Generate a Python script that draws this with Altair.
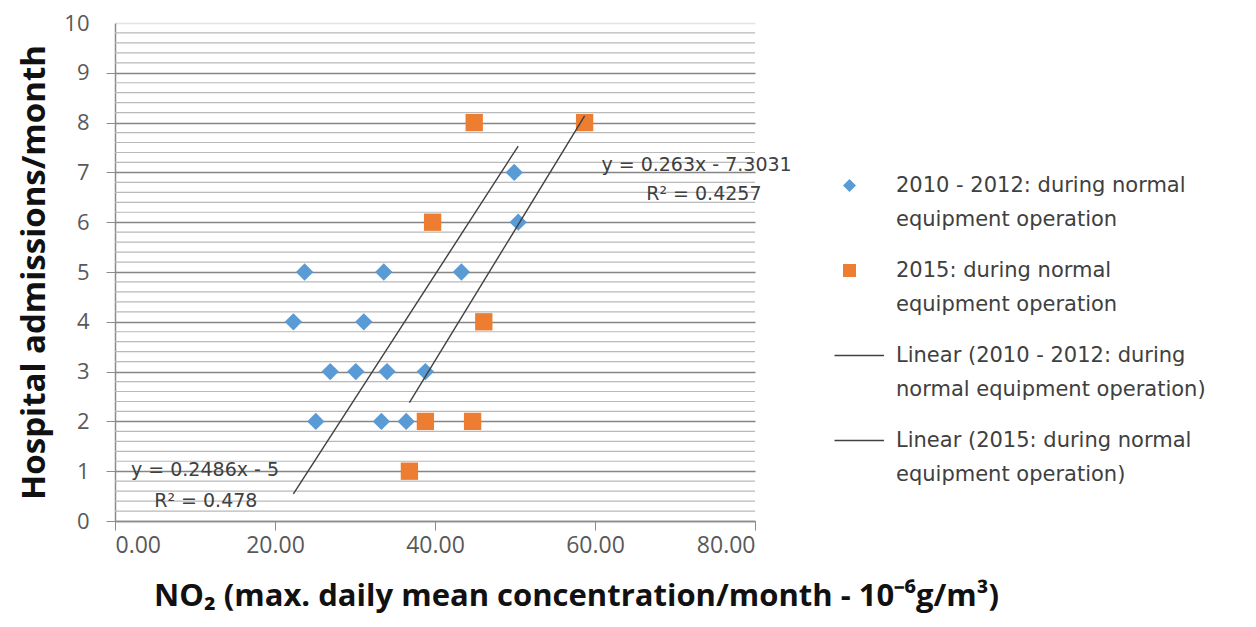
import altair as alt
import pandas as pd

# --- data ---
blue_x = [23.7, 33.6, 22.3, 31.1, 26.9, 30.1, 34.0, 38.8, 25.1, 33.3, 36.4, 43.3, 49.9, 50.4]
blue_y = [5, 5, 4, 4, 3, 3, 3, 3, 2, 2, 2, 5, 7, 6]
orange_x = [44.9, 58.7, 39.7, 46.1, 38.8, 44.7, 36.8]
orange_y = [8, 8, 6, 4, 2, 2, 1]

series_names = [
    "2010 - 2012: during normal|equipment operation",
    "2015: during normal|equipment operation",
    "Linear (2010 - 2012: during|normal equipment operation)",
    "Linear (2015: during normal|equipment operation)",
]

# published trend-line equations
slopes = [0.2486, 0.263]
intercepts = [-5.0, -7.3031]

eq_text = ["y = 0.2486x - 5", "R² =  0.478", "y = 0.263x - 7.3031", "R² = 0.4257"]
eq_x = [2.0, 4.9, 60.8, 66.4]
eq_y = [1.02, 0.41, 7.15, 6.57]

x_ticks = [0, 20, 40, 60, 80]
y_ticks = list(range(0, 11))
y_minor = [round(i * 0.2, 1) for i in range(51) if i % 5 != 0]

# --- tables ---
pts = pd.DataFrame({
    "x": blue_x + orange_x,
    "y": blue_y + orange_y,
    "series": [series_names[0]] * len(blue_x) + [series_names[1]] * len(orange_x),
})

rows = []
for k, xs in enumerate([blue_x, orange_x]):
    for xv in (min(xs), max(xs)):
        rows.append({"x": xv, "y": slopes[k] * xv + intercepts[k], "series": series_names[k + 2]})
lines_df = pd.DataFrame(rows)

ann = pd.DataFrame({"x": eq_x, "y": eq_y, "t": eq_text})
minor_df = pd.DataFrame({"y": y_minor})

font = "Open Sans"
line_path = "M-2.3,-0.12L5.3,-0.12L5.3,0.12L-2.3,0.12Z"

x_scale = alt.Scale(domain=[0, 80], nice=False)
y_scale = alt.Scale(domain=[0, 10], nice=False)
color_scale = alt.Scale(domain=series_names, range=["#5B9BD5", "#ED7D31", "#404040", "#404040"])
shape_scale = alt.Scale(domain=series_names, range=["diamond", "square", line_path, line_path])

legend = alt.Legend(
    title=None, orient="none", legendX=724, legendY=152,
    labelExpr="split(datum.label, '|')",
    labelFont="DejaVu Sans", labelFontSize=21, labelColor="#404040",
    labelLimit=500, symbolSize=170, rowPadding=29, symbolStrokeWidth=0,
    labelOffset=36,
)

x_axis = alt.Axis(
    values=x_ticks, format=".2f", grid=False, tickSize=9, tickColor="#8c8c8c",
    domainColor="#8c8c8c", domainWidth=1.5, labelFont=font, labelFontSize=23,
    labelColor="#595959", labelPadding=4,
    title="NO₂ (max. daily mean concentration/month - 10⁻⁶g/m³)",
    titleFont=font, titleFontSize=31, titleFontWeight="bold", titleColor="#111111",
    titleX=461, titleAlign="center", titlePadding=24,
)

top = "datum.value == 10"
y_axis = alt.Axis(
    values=y_ticks, grid=True,
    gridColor={"condition": {"test": top, "value": "#e4e4e4"}, "value": "#858585"},
    gridWidth=1.6,
    tickColor={"condition": {"test": top, "value": "transparent"}, "value": "#8c8c8c"},
    tickSize=9, domainColor="#8c8c8c", domainWidth=1.5,
    labelFont=font, labelFontSize=22, labelColor="#595959", labelPadding=17,
    title="Hospital admissions/month", titleFont=font, titleFontSize=33,
    titleFontWeight="bold", titleColor="#111111", titlePadding=12,
)

minor = alt.Chart(minor_df).mark_rule(color="#b9b9b9", strokeWidth=1.2).encode(
    y=alt.Y("y:Q", scale=y_scale, axis=y_axis),
)

points = alt.Chart(pts).mark_point(filled=True, opacity=1, size=300).encode(
    x=alt.X("x:Q", scale=x_scale, axis=x_axis),
    y=alt.Y("y:Q", scale=y_scale, axis=y_axis),
    color=alt.Color("series:N", scale=color_scale, legend=legend),
    shape=alt.Shape("series:N", scale=shape_scale, legend=legend),
)

trend = alt.Chart(lines_df).mark_line(strokeWidth=1.4).encode(
    x="x:Q", y="y:Q",
    color=alt.Color("series:N", scale=color_scale, legend=legend),
    detail="series:N",
)

labels = alt.Chart(ann).mark_text(
    align="left", baseline="middle", font="DejaVu Sans", fontSize=19, color="#404040"
).encode(x="x:Q", y="y:Q", text="t:N")

chart = alt.layer(minor, points, trend, labels).properties(
    width=640, height=498,
    autosize=alt.AutoSizeParams(type="none"),
    padding={"left": 107, "top": 15, "right": 490, "bottom": 96},
).configure(
    view=alt.ViewConfig(stroke=None),
    style={"guide-label": {"lineHeight": 34}},
)

chart.save("out.html", embed_options={"renderer": "svg", "actions": False})
